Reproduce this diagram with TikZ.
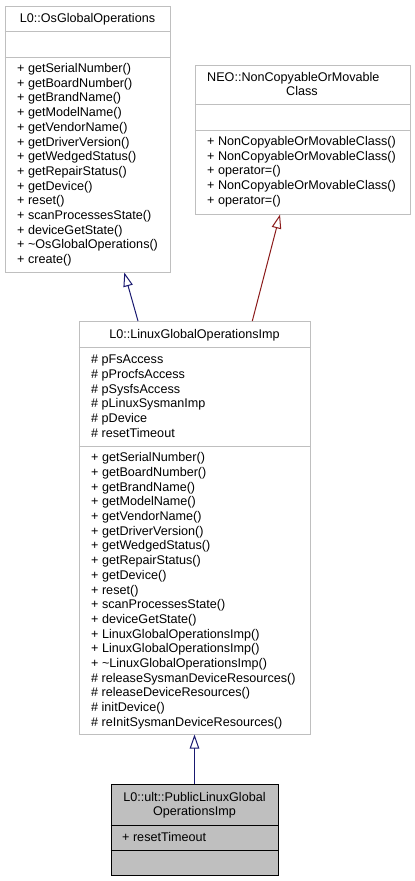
\documentclass[tikz,border=0pt]{standalone}
\usepackage{fontspec}
\setmainfont{Liberation Sans}
\usetikzlibrary{arrows.meta}
\definecolor{boxline}{HTML}{BFBFBF}
\definecolor{basefill}{HTML}{BFBFBF}
\definecolor{pubblue}{HTML}{191970}
\definecolor{privred}{HTML}{8B1A1A}
\tikzset{
  classbox/.style={draw=boxline, fill=white, line width=1pt, inner sep=0pt},
  thisbox/.style={draw=black, fill=basefill, line width=1pt, inner sep=0pt},
  member/.style={anchor=base west, inner sep=0pt, font=\fontsize{12.6}{14.7}\selectfont},
  ctitle/.style={anchor=base, inner sep=0pt, font=\fontsize{12.6}{14.7}\selectfont},
  inherit/.style={line width=1pt, -{Triangle[open, length=14pt, width=9.5pt, fill=white]}}
}

\begin{document}
\begin{tikzpicture}[x=1pt,y=-1pt]
\useasboundingbox (0,0) rectangle (415,881);
% class boxes
\node[classbox, minimum width=165pt, minimum height=266pt] (osglobal) at (87.5,139) {};
\node[classbox, minimum width=215pt, minimum height=149pt] (noncopy) at (302.5,139.5) {};
\node[classbox, minimum width=231pt, minimum height=412.5pt] (linux) at (194.5,527.75) {};
\node[thisbox, minimum width=167pt, minimum height=91pt] (publinux) at (194.5,829.5) {};
% separators
\draw[boxline, line width=1pt] (osglobal.west |- 0,31) -- (osglobal.east |- 0,31);
\draw[boxline, line width=1pt] (osglobal.west |- 0,57) -- (osglobal.east |- 0,57);
\draw[boxline, line width=1pt] (noncopy.west |- 0,104) -- (noncopy.east |- 0,104);
\draw[boxline, line width=1pt] (noncopy.west |- 0,130) -- (noncopy.east |- 0,130);
\draw[boxline, line width=1pt] (linux.west |- 0,347) -- (linux.east |- 0,347);
\draw[boxline, line width=1pt] (linux.west |- 0,446) -- (linux.east |- 0,446);
\draw[black, line width=1pt] (publinux.west |- 0,825) -- (publinux.east |- 0,825);
\draw[black, line width=1pt] (publinux.west |- 0,850) -- (publinux.east |- 0,850);
% L0::OsGlobalOperations
\node[ctitle] (osglobaltitle) at (87.5,22) {L0::OsGlobalOperations};
\foreach \m [count=\i from 0] in {getSerialNumber(), getBoardNumber(), getBrandName(),
    getModelName(), getVendorName(), getDriverVersion(), getWedgedStatus(),
    getRepairStatus(), getDevice(), reset(), scanProcessesState(), deviceGetState(),
    \textasciitilde OsGlobalOperations(), create()}
  \node[member] at ({17},{72.5+14.7*\i}) {+ \m};
% NEO::NonCopyableOrMovableClass
\node[member] (noncopytitle) at (207,81.3) {NEO::NonCopyableOrMovable};
\node[ctitle] (noncopytitleb) at (302,95.3) {Class};
\foreach \m [count=\i from 0] in {NonCopyableOrMovableClass(), NonCopyableOrMovableClass(),
    operator=(), NonCopyableOrMovableClass(), operator=()}
  \node[member] at ({207},{145.5+14.7*\i}) {+ \m};
% L0::LinuxGlobalOperationsImp
\node[ctitle] (linuxtitle) at (194.5,338.3) {L0::LinuxGlobalOperationsImp};
\foreach \m [count=\i from 0] in {pFsAccess, pProcfsAccess, pSysfsAccess,
    pLinuxSysmanImp, pDevice, resetTimeout}
  \node[member] at ({91},{363.7+14.7*\i}) {\# \m};
\foreach \m [count=\i from 0] in {getSerialNumber(), getBoardNumber(), getBrandName(),
    getModelName(), getVendorName(), getDriverVersion(), getWedgedStatus(),
    getRepairStatus(), getDevice(), reset(), scanProcessesState(), deviceGetState(),
    LinuxGlobalOperationsImp(), LinuxGlobalOperationsImp(),
    \textasciitilde LinuxGlobalOperationsImp()}
  \node[member] at ({91},{461.7+14.7*\i}) {+ \m};
\foreach \m [count=\i from 15] in {releaseSysmanDeviceResources(),
    releaseDeviceResources(), initDevice(), reInitSysmanDeviceResources()}
  \node[member] at ({91},{461.7+14.7*\i}) {\# \m};
% L0::ult::PublicLinuxGlobalOperationsImp
\node[ctitle] (publinuxtitle) at (194.5,801.5) {L0::ult::PublicLinuxGlobal};
\node[ctitle] (publinuxtitleb) at (194.5,815.8) {OperationsImp};
\node[member] (publinuxattr) at (122,841.5) {+ resetTimeout};
% inheritance
\draw[inherit, pubblue] (linux.north -| 138,0) -- (osglobal.south -| 124.3,0);
\draw[inherit, privred] (linux.north -| 252.3,0) -- (noncopy.south -| 280,0);
\draw[inherit, pubblue] (publinux.north) -- (linux.south);
\end{tikzpicture}
\end{document}
